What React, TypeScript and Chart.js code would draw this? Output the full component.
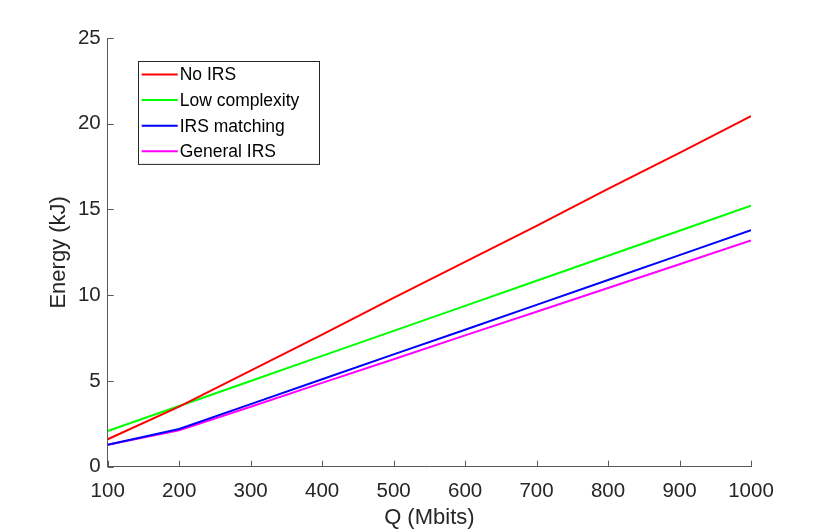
import React, { useEffect, useRef } from 'react';
import { Chart, registerables } from 'chart.js';

Chart.register(...registerables);

const qValues = [100, 200, 300, 400, 500, 600, 700, 800, 900, 1000];
const noIrs = [1.6, 3.5, 5.6, 7.7, 9.85, 11.95, 14.05, 16.2, 18.3, 20.45];
const lowComplexity = [2.08, 3.54, 5.0, 6.46, 7.92, 9.38, 10.84, 12.3, 13.76, 15.22];
const irsMatching = [1.28, 2.2, 3.65, 5.1, 6.55, 7.99, 9.44, 10.89, 12.34, 13.79];
const generalIrs = [1.28, 2.12, 3.5, 4.89, 6.27, 7.66, 9.04, 10.42, 11.81, 13.19];
const xTicks = [100, 200, 300, 400, 500, 600, 700, 800, 900, 1000];
const yTicks = [0, 5, 10, 15, 20, 25];

const FONT = '"Liberation Sans", Arial, Helvetica, sans-serif';
const TEXT = '#262626';
const AXIS = '#5a5a5a';

// MATLAB style: tick marks point into the plot
const innerTicks = {
  id: 'innerTicks',
  afterDatasetsDraw(chart: Chart) {
    const { ctx, chartArea, scales } = chart;
    ctx.save();
    ctx.strokeStyle = AXIS;
    ctx.lineWidth = 1;
    ctx.beginPath();
    xTicks.forEach((v) => {
      const x = Math.round(scales.x.getPixelForValue(v)) + 0.5;
      ctx.moveTo(x, chartArea.bottom);
      ctx.lineTo(x, chartArea.bottom - 6);
    });
    yTicks.forEach((v) => {
      const y = Math.round(scales.y.getPixelForValue(v)) + 0.5;
      ctx.moveTo(chartArea.left, y);
      ctx.lineTo(chartArea.left + 6, y);
    });
    ctx.stroke();
    ctx.restore();
  },
};

// boxed legend in the upper-left of the axes
const boxLegend = {
  id: 'boxLegend',
  afterDraw(chart: Chart) {
    const { ctx, chartArea } = chart;
    const left = chartArea.left + 30;
    const top = chartArea.top + 23;
    const w = 181;
    const rowH = 25.6;
    const h = rowH * chart.data.datasets.length + 0.5;
    ctx.save();
    ctx.fillStyle = '#ffffff';
    ctx.fillRect(left, top, w, h);
    ctx.strokeStyle = '#262626';
    ctx.lineWidth = 1;
    ctx.strokeRect(Math.round(left) + 0.5, Math.round(top) + 0.5, w, h);
    ctx.font = `17.5px ${FONT}`;
    ctx.textBaseline = 'middle';
    ctx.fillStyle = '#000000';
    chart.data.datasets.forEach((ds, i) => {
      const y = top + 13.5 + i * rowH;
      ctx.strokeStyle = ds.borderColor as string;
      ctx.lineWidth = 2;
      ctx.beginPath();
      ctx.moveTo(left + 4, y);
      ctx.lineTo(left + 40, y);
      ctx.stroke();
      ctx.fillText(ds.label as string, left + 42, y + 1);
    });
    ctx.restore();
  },
};

const App = () => {
  const ref = useRef<HTMLCanvasElement | null>(null);
  const chartRef = useRef<Chart<'line'> | null>(null);

  useEffect(() => {
    document.body.style.margin = '0';
    const canvas = ref.current;
    if (!canvas) return;
    if (chartRef.current) chartRef.current.destroy();

    const mk = (label: string, data: number[], color: string) => ({
      label,
      data: qValues.map((q, i) => ({ x: q, y: data[i] })),
      borderColor: color,
      backgroundColor: color,
      borderWidth: 2,
      pointRadius: 0,
      tension: 0,
    });

    chartRef.current = new Chart(canvas, {
      type: 'line',
      data: {
        datasets: [
          mk('No IRS', noIrs, '#ff0000'),
          mk('Low complexity', lowComplexity, '#00ff00'),
          mk('IRS matching', irsMatching, '#0000ff'),
          mk('General IRS', generalIrs, '#ff00ff'),
        ],
      },
      options: {
        animation: false,
        responsive: false,
        devicePixelRatio: 1,
        layout: { padding: { top: 38, right: 79, bottom: 0, left: 0 } },
        plugins: { legend: { display: false }, tooltip: { enabled: false } },
        scales: {
          x: {
            type: 'linear',
            min: 100,
            max: 1000,
            afterBuildTicks: (s: any) => {
              s.ticks = xTicks.map((v) => ({ value: v }));
            },
            afterFit: (s: any) => {
              s.height = 65.3;
            },
            grid: { display: false, drawTicks: false },
            border: { display: true, color: AXIS, width: 1 },
            ticks: {
              color: TEXT,
              font: { family: FONT, size: 20.5 },
              padding: 12,
              maxRotation: 0,
              autoSkip: false,
              callback: (v: any) => String(v),
            },
            title: {
              display: true,
              text: 'Q (Mbits)',
              color: TEXT,
              font: { family: FONT, size: 22 },
              padding: { top: 0, bottom: 1 },
            },
          },
          y: {
            type: 'linear',
            min: 0,
            max: 25,
            afterBuildTicks: (s: any) => {
              s.ticks = yTicks.map((v) => ({ value: v }));
            },
            afterFit: (s: any) => {
              s.width = 107.7;
            },
            grid: { display: false, drawTicks: false },
            border: { display: true, color: AXIS, width: 1 },
            ticks: {
              color: TEXT,
              font: { family: FONT, size: 20.5 },
              padding: 7,
              callback: (v: any) => String(v),
            },
            title: {
              display: true,
              text: 'Energy (kJ)',
              color: TEXT,
              font: { family: FONT, size: 22 },
              padding: { top: 46, bottom: 0 },
            },
          },
        },
      },
      plugins: [innerTicks, boxLegend],
    });

    return () => {
      chartRef.current?.destroy();
      chartRef.current = null;
    };
  }, []);

  return (
    <div style={{ width: 830, height: 532 }}>
      <canvas ref={ref} width={830} height={532}></canvas>
    </div>
  );
};

export default App;
